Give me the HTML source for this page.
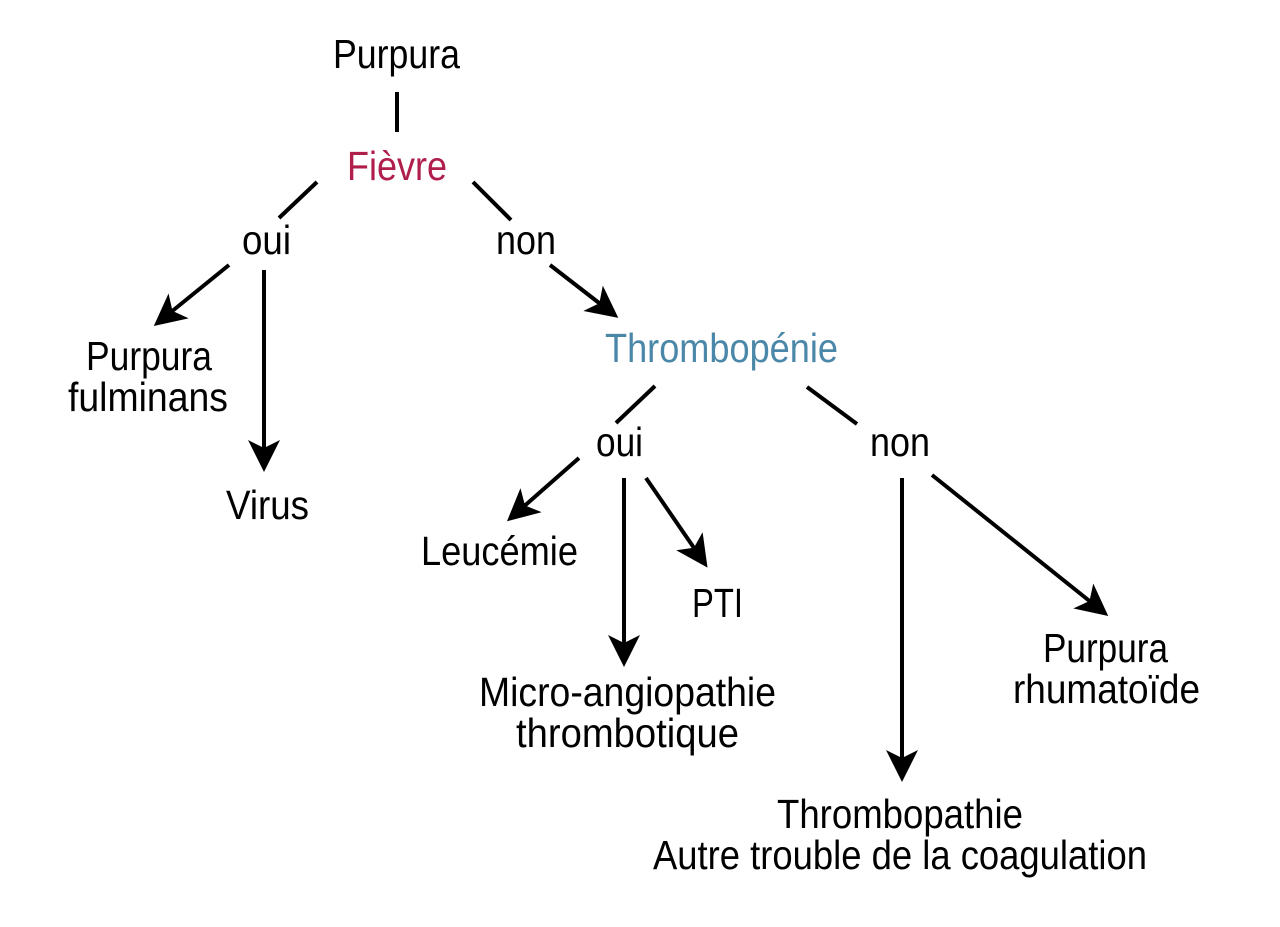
<!DOCTYPE html>
<html><head><meta charset="utf-8"><style>
html,body{margin:0;padding:0;background:#fff;}
svg{display:block;}
text{font-family:"Liberation Sans",sans-serif;font-size:41px;fill:#000;}
</style></head><body>
<svg width="1280" height="927" viewBox="0 0 1280 927" xmlns="http://www.w3.org/2000/svg">
<defs>
<marker id="a" markerWidth="8" markerHeight="8" refX="6" refY="4" orient="auto" markerUnits="strokeWidth">
<path d="M0,0 L8,4 L0,8 L2,4 Z" fill="#000"/>
</marker>
</defs>
<g stroke="#000" stroke-width="4" fill="none">
<line x1="397" y1="92" x2="397" y2="132"/>
<line x1="317" y1="182" x2="279" y2="218"/>
<line x1="473" y1="182" x2="511" y2="220"/>
<line x1="229" y1="265" x2="160" y2="321" marker-end="url(#a)"/>
<line x1="264" y1="270" x2="264" y2="464" marker-end="url(#a)"/>
<line x1="550" y1="265" x2="612" y2="313" marker-end="url(#a)"/>
<line x1="655" y1="386" x2="616" y2="423"/>
<line x1="807" y1="387" x2="857" y2="424"/>
<line x1="579" y1="458" x2="513" y2="516" marker-end="url(#a)"/>
<line x1="624" y1="478" x2="624" y2="659" marker-end="url(#a)"/>
<line x1="646" y1="478" x2="703" y2="561" marker-end="url(#a)"/>
<line x1="902" y1="478" x2="902" y2="774" marker-end="url(#a)"/>
<line x1="932" y1="475" x2="1102" y2="611" marker-end="url(#a)"/>
</g>
<g>
<text x="333" y="68" textLength="127" lengthAdjust="spacingAndGlyphs">Purpura</text>
<text x="347" y="180" textLength="100" lengthAdjust="spacingAndGlyphs" style="fill:#b01e4c">Fièvre</text>
<text x="242" y="254" textLength="49" lengthAdjust="spacingAndGlyphs">oui</text>
<text x="496" y="254" textLength="60" lengthAdjust="spacingAndGlyphs">non</text>
<text x="86" y="370" textLength="126" lengthAdjust="spacingAndGlyphs">Purpura</text>
<text x="68" y="411" textLength="160" lengthAdjust="spacingAndGlyphs">fulminans</text>
<text x="226" y="519" textLength="83" lengthAdjust="spacingAndGlyphs">Virus</text>
<text x="605" y="362" textLength="233" lengthAdjust="spacingAndGlyphs" style="fill:#4b87a8">Thrombopénie</text>
<text x="596" y="456" textLength="47" lengthAdjust="spacingAndGlyphs">oui</text>
<text x="870" y="456" textLength="60" lengthAdjust="spacingAndGlyphs">non</text>
<text x="421" y="565" textLength="157" lengthAdjust="spacingAndGlyphs">Leucémie</text>
<text x="692" y="617" textLength="51" lengthAdjust="spacingAndGlyphs">PTI</text>
<text x="479" y="706" textLength="297" lengthAdjust="spacingAndGlyphs">Micro-angiopathie</text>
<text x="516" y="747" textLength="223" lengthAdjust="spacingAndGlyphs">thrombotique</text>
<text x="1043" y="662" textLength="125" lengthAdjust="spacingAndGlyphs">Purpura</text>
<text x="1013" y="703" textLength="187" lengthAdjust="spacingAndGlyphs">rhumatoïde</text>
<text x="777" y="828" textLength="246" lengthAdjust="spacingAndGlyphs">Thrombopathie</text>
<text x="653" y="869" textLength="494" lengthAdjust="spacingAndGlyphs">Autre trouble de la coagulation</text>
</g>
</svg>
</body></html>
